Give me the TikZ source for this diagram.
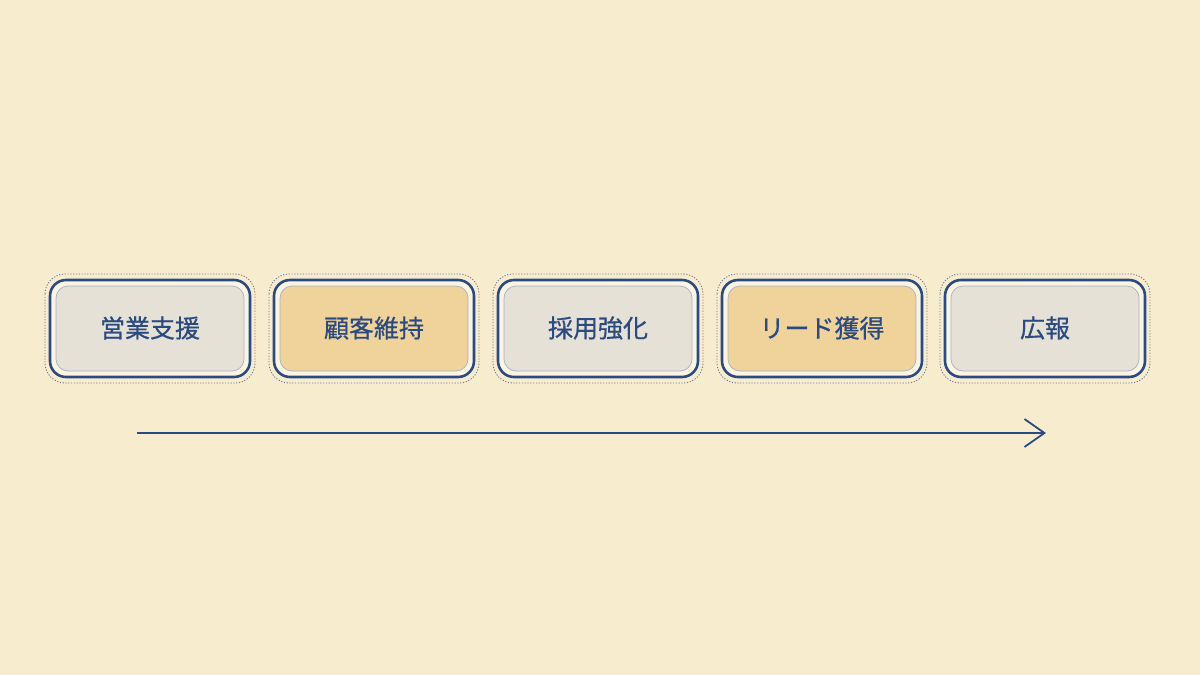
\documentclass[tikz,border=0pt]{standalone}
\usepackage{fontspec}
\newfontfamily\jpfont[FakeBold=0.6]{Noto Sans CJK JP}
\definecolor{bg}{HTML}{F8ECCF}
\definecolor{ink}{HTML}{2B4A80}
\definecolor{greyfill}{HTML}{E5E1D6}
\definecolor{yelfill}{HTML}{F0D39B}
\definecolor{dotc}{HTML}{6E7C9E}
\tikzset{
  boxlabel/.style={font=\jpfont\fontsize{25}{30}\selectfont, text=ink},
  outerline/.style={draw=ink, line width=2.6pt, rounded corners=16pt},
  dotline/.style={draw=dotc, line width=0.9pt, dash pattern=on 1.2pt off 1.6pt, rounded corners=20pt},
  innerfill/.style={draw=dotc!60, line width=0.7pt, rounded corners=12pt},
  flowarrow/.style={draw=ink, line width=2pt, -{Straight Barb[length=20pt,width=28pt,line width=1.8pt]}},
}
\usetikzlibrary{arrows.meta}
\begin{document}
\begin{tikzpicture}[x=1pt,y=-1pt]
\fill[bg] (0,0) rectangle (1200,675);
\useasboundingbox (0,0) rectangle (1200,675);
\foreach \x/\f/\t/\n in {50/greyfill/営業支援/a, 274/yelfill/顧客維持/b, 498/greyfill/採用強化/c, 722/yelfill/リード獲得/d, 945/greyfill/広報/e}{
  \path[dotline] (\x-5,274) rectangle (\x+205,383);
  \path[outerline, fill=bg!60!white] (\x,280) rectangle (\x+200,377);
  \path[innerfill, fill=\f] (\x+6,286) rectangle (\x+194,371);
  \node[boxlabel] (\n) at (\x+100,328) {\t};
}
\coordinate (s) at (137,433);
\coordinate (t) at (1046,433);
\draw[flowarrow] (s) -- (t);
\end{tikzpicture}
\end{document}
